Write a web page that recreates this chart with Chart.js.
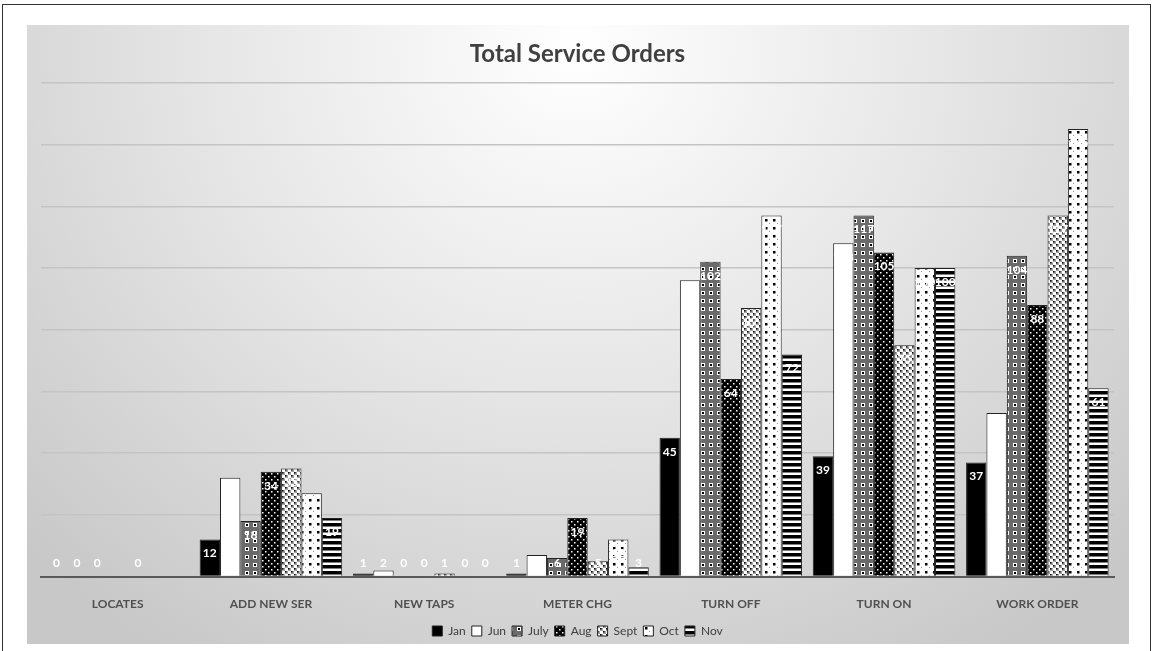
<!DOCTYPE html>
<html lang="en">
<head>
    <meta charset="UTF-8">
    <title>Total Service Orders</title>
    <style>
        * { margin: 0; padding: 0; box-sizing: border-box; }
        body { background: #fff; width: 1156px; height: 651px; overflow: hidden; position: relative; }
        .frame {
            position: absolute; left: 2px; top: 4px; width: 1149px; height: 660px;
            border: 1.5px solid #333;
        }
        .panel {
            position: absolute; left: 27px; top: 25px; width: 1102px; height: 619px;
            background: radial-gradient(ellipse 70% 115% at 50% 4%, #ffffff 0%, #e6e6e6 48%, #c8c8c8 100%);
        }
    </style>
    <script src="https://cdn.jsdelivr.net/npm/chart.js"></script>
</head>
<body>
    <div class="frame"></div>
    <div class="panel">
        <canvas id="ordersChart"></canvas>
    </div>

    <script>
        // chart data
        const categories = ['LOCATES', 'ADD NEW SER', 'NEW TAPS', 'METER CHG', 'TURN OFF', 'TURN ON', 'WORK ORDER'];
        const months = ['Jan', 'Jun', 'July', 'Aug', 'Sept', 'Oct', 'Nov'];
        const janValues  = [0, 12, 1, 1, 45, 39, 37];
        const junValues  = [0, 32, 2, 7, 96, 108, 53];
        const julyValues = [0, 18, 0, 6, 102, 117, 104];
        const augValues  = [null, 34, 0, 19, 64, 105, 88];
        const septValues = [0, 35, 1, 5, 87, 75, 117];
        const octValues  = [null, 27, 0, 12, 117, 100, 145];
        const novValues  = [null, 19, 0, 3, 72, 100, 61];
        const yMax = 160;
        const yStep = 20;

        // small tiles for the black & white pattern fills
        function makePattern(w, h, paint) {
            const c = document.createElement('canvas');
            c.width = w; c.height = h;
            const g = c.getContext('2d');
            paint(g);
            return g.createPattern(c, 'repeat');
        }

        const fills = [
            '#000000',
            '#ffffff',
            makePattern(8, 8, g => {            // July: grey with framed squares
                g.fillStyle = '#6a6a6a'; g.fillRect(0, 0, 8, 8);
                g.fillStyle = '#ffffff'; g.fillRect(2, 2, 4, 4);
                g.fillStyle = '#000000'; g.fillRect(3, 3, 2, 2);
            }),
            makePattern(6, 6, g => {            // Aug: black with white dots
                g.fillStyle = '#000000'; g.fillRect(0, 0, 6, 6);
                g.fillStyle = '#ffffff'; g.fillRect(1, 1, 1.5, 1.5); g.fillRect(4, 4, 1.5, 1.5);
            }),
            makePattern(6, 6, g => {            // Sept: light check
                g.fillStyle = '#ffffff'; g.fillRect(0, 0, 6, 6);
                g.fillStyle = '#a0a0a0'; g.fillRect(0, 0, 3, 3); g.fillRect(3, 3, 3, 3);
                g.fillStyle = '#000000'; g.fillRect(0, 0, 1.5, 1.5); g.fillRect(3, 3, 1.5, 1.5);
            }),
            makePattern(8, 8, g => {            // Oct: white with black dots
                g.fillStyle = '#ffffff'; g.fillRect(0, 0, 8, 8);
                g.fillStyle = '#000000'; g.fillRect(2, 2, 2.5, 2.5);
                g.fillStyle = '#999999'; g.fillRect(6, 6, 1, 1);
            }),
            makePattern(6, 6, g => {            // Nov: horizontal stripes
                g.fillStyle = '#ffffff'; g.fillRect(0, 0, 6, 6);
                g.fillStyle = '#000000'; g.fillRect(0, 0, 6, 3.5);
            })
        ];

        const seriesValues = [janValues, junValues, julyValues, augValues, septValues, octValues, novValues];

        // white value labels just inside the top of each bar
        const barLabels = {
            id: 'barLabels',
            afterDatasetsDraw(chart) {
                const ctx = chart.ctx;
                const base = chart.scales.y.getPixelForValue(0);
                ctx.save();
                ctx.font = 'bold 12px Lato, "Open Sans", sans-serif';
                ctx.fillStyle = '#ffffff';
                ctx.textAlign = 'center';
                ctx.textBaseline = 'middle';
                chart.data.datasets.forEach((ds, i) => {
                    chart.getDatasetMeta(i).data.forEach((bar, j) => {
                        const v = ds.data[j];
                        if (v === null || v === undefined) return;
                        const y = Math.min(bar.y + 14, base - 13);
                        ctx.fillText(String(v), bar.x, y);
                    });
                });
                ctx.restore();
            }
        };

        const ctx = document.getElementById('ordersChart').getContext('2d');

        new Chart(ctx, {
            type: 'bar',
            data: {
                labels: categories,
                datasets: months.map((m, i) => ({
                    label: m,
                    data: seriesValues[i],
                    backgroundColor: fills[i],
                    borderColor: '#222222',
                    borderWidth: 1,
                    categoryPercentage: 0.93,
                    barPercentage: 1.0
                }))
            },
            options: {
                responsive: true,
                maintainAspectRatio: false,
                animation: false,
                layout: { padding: { left: 14, right: 15, top: 0, bottom: 0 } },
                plugins: {
                    title: {
                        display: true,
                        text: 'Total Service Orders',
                        color: '#404040',
                        font: { family: 'Lato, "Open Sans", sans-serif', size: 24, weight: 'bold' },
                        padding: { top: 15, bottom: 14 }
                    },
                    legend: {
                        position: 'bottom',
                        maxHeight: 25,
                        labels: {
                            boxWidth: 10,
                            boxHeight: 10,
                            padding: 6,
                            color: '#404040',
                            font: { family: 'Lato, "Open Sans", sans-serif', size: 12 }
                        }
                    },
                    tooltip: { enabled: false }
                },
                scales: {
                    x: {
                        grid: { display: false, drawTicks: false },
                        border: { color: '#595959', width: 2 },
                        afterFit: s => { s.height -= 12; },
                        ticks: {
                            padding: 20,
                            color: '#505050',
                            font: { family: 'Lato, "Open Sans", sans-serif', size: 12, weight: 'bold' }
                        }
                    },
                    y: {
                        min: 0,
                        max: yMax,
                        ticks: { display: false, stepSize: yStep },
                        grid: { color: '#c4c4c4', lineWidth: 1.5, drawTicks: false },
                        border: { display: false }
                    }
                }
            },
            plugins: [barLabels]
        });
    </script>
</body>
</html>
